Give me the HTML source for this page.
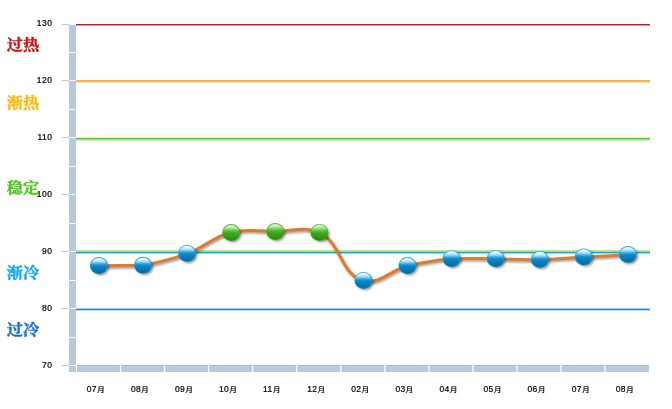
<!DOCTYPE html>
<html lang="zh-CN"><head><meta charset="utf-8"><title>chart</title>
<style>
html,body{margin:0;padding:0;background:#fff;}
body{width:672px;height:409px;overflow:hidden;position:relative;font-family:"Liberation Sans","Noto Sans CJK SC",sans-serif;}
svg{position:absolute;left:0;top:0;display:block;}
.num{font-family:"Liberation Sans","Noto Sans CJK SC",sans-serif;font-size:8.5px;fill:#000;letter-spacing:0.45px;stroke:#000;stroke-width:0.22px;}
.cat{font-family:"Liberation Sans","Noto Sans CJK SC",sans-serif;font-size:8.5px;fill:#000;letter-spacing:0.3px;stroke:#000;stroke-width:0.22px;}
.zone{font-family:"Liberation Serif","Noto Serif CJK SC",serif;font-size:14.3px;font-weight:700;stroke-width:0.35px;}
</style></head><body>
<svg width="672" height="409" viewBox="0 0 672 409">
<defs>
<linearGradient id="gb" x1="0" y1="0" x2="0" y2="1">
<stop offset="0.03" stop-color="#f0faff"/><stop offset="0.15" stop-color="#d4effc"/><stop offset="0.24" stop-color="#a8ddf7"/><stop offset="0.32" stop-color="#72c3ee"/><stop offset="0.39" stop-color="#42a9e2"/><stop offset="0.47" stop-color="#1a92d2"/><stop offset="0.55" stop-color="#0a86c6"/><stop offset="0.72" stop-color="#077cb8"/><stop offset="0.95" stop-color="#0570a8"/>
</linearGradient>
<linearGradient id="rb" x1="0" y1="0" x2="0" y2="1">
<stop offset="0" stop-color="#24acf6"/><stop offset="0.55" stop-color="#169fea"/><stop offset="1" stop-color="#066ca4"/>
</linearGradient>
<linearGradient id="gg" x1="0" y1="0" x2="0" y2="1">
<stop offset="0.03" stop-color="#def6d4"/><stop offset="0.15" stop-color="#c2ecb0"/><stop offset="0.24" stop-color="#a2de88"/><stop offset="0.32" stop-color="#80ce5e"/><stop offset="0.39" stop-color="#60c040"/><stop offset="0.47" stop-color="#48b228"/><stop offset="0.55" stop-color="#3ea81e"/><stop offset="0.72" stop-color="#369e16"/><stop offset="0.95" stop-color="#2c900e"/>
</linearGradient>
<linearGradient id="rg" x1="0" y1="0" x2="0" y2="1">
<stop offset="0" stop-color="#50c02c"/><stop offset="0.6" stop-color="#3eae1e"/><stop offset="1" stop-color="#2c8c10"/>
</linearGradient>
<filter id="sh2" x="-5%" y="-20%" width="110%" height="140%"><feGaussianBlur stdDeviation="0.9"/></filter>
<filter id="sh" x="-50%" y="-50%" width="200%" height="200%"><feGaussianBlur stdDeviation="1.1"/></filter>
<g id="bb">
<ellipse cx="1.7" cy="1.8" rx="8.6" ry="8.2" fill="#000" opacity="0.42" filter="url(#sh)"/>
<ellipse cx="-0.1" cy="0.1" rx="8.95" ry="8.4" fill="url(#rb)"/>
<ellipse cx="-0.1" cy="0.15" rx="8.15" ry="7.6" fill="url(#gb)"/>
</g>
<g id="bg">
<ellipse cx="1.7" cy="1.8" rx="8.6" ry="8.2" fill="#000" opacity="0.42" filter="url(#sh)"/>
<ellipse cx="-0.1" cy="0.1" rx="8.95" ry="8.4" fill="url(#rg)"/>
<ellipse cx="-0.1" cy="0.15" rx="8.15" ry="7.6" fill="url(#gg)"/>
</g>
</defs>

<rect x="76.00" y="24.00" width="574.00" height="1.00" fill="#cc1414"/>
<rect x="76.00" y="25.00" width="574.00" height="1.00" fill="#cc1414" opacity="0.45"/>
<rect x="76.00" y="80.00" width="574.00" height="1.00" fill="#cc1414" opacity="0.38"/>
<rect x="76.00" y="81.00" width="574.00" height="1.00" fill="#ffc20e"/>
<rect x="76.00" y="82.00" width="574.00" height="1.00" fill="#ffc20e" opacity="0.40"/>
<rect x="76.00" y="137.00" width="574.00" height="1.00" fill="#ffc20e" opacity="0.35"/>
<rect x="76.00" y="138.00" width="574.00" height="1.00" fill="#4fc832"/>
<rect x="76.00" y="139.00" width="574.00" height="1.00" fill="#4fc832" opacity="0.58"/>
<rect x="76.00" y="140.00" width="574.00" height="1.00" fill="#4fc832" opacity="0.27"/>
<rect x="76.00" y="141.00" width="574.00" height="1.00" fill="#4fc832" opacity="0.06"/>
<rect x="76.00" y="250.00" width="574.00" height="1.00" fill="#b6eb94"/>
<rect x="76.00" y="251.00" width="574.00" height="1.00" fill="#9fe072"/>
<rect x="76.00" y="252.00" width="574.00" height="1.00" fill="#10a6f2"/>
<rect x="76.00" y="253.00" width="574.00" height="1.00" fill="#10a6f2" opacity="0.45"/>
<rect x="76.00" y="308.00" width="574.00" height="1.00" fill="#10a6f2" opacity="0.45"/>
<rect x="76.00" y="309.00" width="574.00" height="1.00" fill="#2f80d2"/>
<rect x="76.00" y="310.00" width="574.00" height="1.00" fill="#2f80d2" opacity="0.30"/>
<rect x="69.00" y="25.00" width="7.00" height="347.00" fill="#b8c9dc"/>
<rect x="77.00" y="365.00" width="572.00" height="7.00" fill="#b8c9dc"/>
<rect x="77.00" y="365.00" width="572.00" height="1.00" fill="#a3bedb"/>
<rect x="62.00" y="24.00" width="7.00" height="1.00" fill="#b4c6da"/>
<text class="num" x="52.4" y="26.1" text-anchor="end">130</text>
<rect x="69.00" y="52.00" width="7.00" height="1.00" fill="#fff"/>
<rect x="69.00" y="80.00" width="7.00" height="1.00" fill="#fff"/>
<rect x="62.00" y="80.00" width="7.00" height="1.00" fill="#b4c6da"/>
<text class="num" x="52.4" y="83.1" text-anchor="end">120</text>
<rect x="69.00" y="109.00" width="7.00" height="1.00" fill="#fff"/>
<rect x="69.00" y="137.00" width="7.00" height="1.00" fill="#fff"/>
<rect x="62.00" y="137.00" width="7.00" height="1.00" fill="#b4c6da"/>
<text class="num" x="52.4" y="140.1" text-anchor="end">110</text>
<rect x="69.00" y="166.00" width="7.00" height="1.00" fill="#fff"/>
<rect x="69.00" y="194.00" width="7.00" height="1.00" fill="#fff"/>
<rect x="62.00" y="194.00" width="7.00" height="1.00" fill="#b4c6da"/>
<text class="num" x="52.4" y="197.1" text-anchor="end">100</text>
<rect x="69.00" y="223.00" width="7.00" height="1.00" fill="#fff"/>
<rect x="69.00" y="251.00" width="7.00" height="1.00" fill="#fff"/>
<rect x="62.00" y="251.00" width="7.00" height="1.00" fill="#b4c6da"/>
<text class="num" x="52.4" y="254.1" text-anchor="end">90</text>
<rect x="69.00" y="280.00" width="7.00" height="1.00" fill="#fff"/>
<rect x="69.00" y="308.00" width="7.00" height="1.00" fill="#fff"/>
<rect x="62.00" y="308.00" width="7.00" height="1.00" fill="#b4c6da"/>
<text class="num" x="52.4" y="311.1" text-anchor="end">80</text>
<rect x="69.00" y="337.00" width="7.00" height="1.00" fill="#fff"/>
<rect x="69.00" y="365.00" width="7.00" height="1.00" fill="#fff"/>
<rect x="62.00" y="365.00" width="7.00" height="1.00" fill="#b4c6da"/>
<text class="num" x="52.4" y="368.1" text-anchor="end">70</text>
<rect x="76.00" y="365.00" width="1.00" height="8.00" fill="#fff"/>
<rect x="119.94" y="365.00" width="1.30" height="7.00" fill="#fff"/>
<rect x="163.98" y="365.00" width="1.30" height="7.00" fill="#fff"/>
<rect x="208.02" y="365.00" width="1.30" height="7.00" fill="#fff"/>
<rect x="252.06" y="365.00" width="1.30" height="7.00" fill="#fff"/>
<rect x="296.10" y="365.00" width="1.30" height="7.00" fill="#fff"/>
<rect x="340.14" y="365.00" width="1.30" height="7.00" fill="#fff"/>
<rect x="384.18" y="365.00" width="1.30" height="7.00" fill="#fff"/>
<rect x="428.22" y="365.00" width="1.30" height="7.00" fill="#fff"/>
<rect x="472.26" y="365.00" width="1.30" height="7.00" fill="#fff"/>
<rect x="516.30" y="365.00" width="1.30" height="7.00" fill="#fff"/>
<rect x="560.34" y="365.00" width="1.30" height="7.00" fill="#fff"/>
<rect x="604.38" y="365.00" width="1.30" height="7.00" fill="#fff"/>
<text class="cat" x="86.8" y="392.3">07<tspan dx="0.4" font-size="7.4px">月</tspan></text>
<text class="cat" x="130.9" y="392.3">08<tspan dx="0.4" font-size="7.4px">月</tspan></text>
<text class="cat" x="175.0" y="392.3">09<tspan dx="0.4" font-size="7.4px">月</tspan></text>
<text class="cat" x="219.0" y="392.3">10<tspan dx="0.4" font-size="7.4px">月</tspan></text>
<text class="cat" x="263.1" y="392.3">11<tspan dx="0.4" font-size="7.4px">月</tspan></text>
<text class="cat" x="307.2" y="392.3">12<tspan dx="0.4" font-size="7.4px">月</tspan></text>
<text class="cat" x="351.3" y="392.3">02<tspan dx="0.4" font-size="7.4px">月</tspan></text>
<text class="cat" x="395.4" y="392.3">03<tspan dx="0.4" font-size="7.4px">月</tspan></text>
<text class="cat" x="439.5" y="392.3">04<tspan dx="0.4" font-size="7.4px">月</tspan></text>
<text class="cat" x="483.5" y="392.3">05<tspan dx="0.4" font-size="7.4px">月</tspan></text>
<text class="cat" x="527.6" y="392.3">06<tspan dx="0.4" font-size="7.4px">月</tspan></text>
<text class="cat" x="571.7" y="392.3">07<tspan dx="0.4" font-size="7.4px">月</tspan></text>
<text class="cat" x="615.8" y="392.3">08<tspan dx="0.4" font-size="7.4px">月</tspan></text>
<text class="zone" x="6.8" y="50.0" fill="#cc1414" stroke="#cc1414" textLength="32.4" lengthAdjust="spacingAndGlyphs">过热</text>
<text class="zone" x="6.8" y="107.5" fill="#ffb70a" stroke="#ffb70a" textLength="32.4" lengthAdjust="spacingAndGlyphs">渐热</text>
<text class="zone" x="6.8" y="192.9" fill="#4fc61e" stroke="#4fc61e" textLength="32.4" lengthAdjust="spacingAndGlyphs">稳定</text>
<text class="zone" x="6.8" y="278.4" fill="#12a5f5" stroke="#12a5f5" textLength="32.4" lengthAdjust="spacingAndGlyphs">渐冷</text>
<text class="zone" x="6.8" y="335.4" fill="#1271cf" stroke="#1271cf" textLength="32.4" lengthAdjust="spacingAndGlyphs">过冷</text>
<path d="M98.95,265.80 C114.82,265.69 127.16,265.50 143.03,265.50 C159.14,262.28 171.73,259.45 187.12,253.70 C203.66,247.52 214.03,236.33 231.20,232.20 C246.63,228.49 259.41,231.35 275.28,231.40 C291.16,231.45 304.92,225.92 319.37,232.50 C340.76,242.25 340.68,274.84 363.45,280.70 C379.67,284.88 391.26,269.79 407.53,265.80 C423.13,261.97 435.60,260.15 451.61,258.90 C467.44,257.67 479.83,258.76 495.70,258.90 C511.57,259.04 523.91,260.02 539.78,259.70 C555.67,259.38 567.99,257.99 583.86,257.10 C599.73,256.21 612.08,255.60 627.95,254.75" fill="none" stroke="#000" stroke-width="3" opacity="0.38" transform="translate(1.2,1.6)" filter="url(#sh2)"/>
<path d="M98.95,265.80 C114.82,265.69 127.16,265.50 143.03,265.50 C159.14,262.28 171.73,259.45 187.12,253.70 C203.66,247.52 214.03,236.33 231.20,232.20 C246.63,228.49 259.41,231.35 275.28,231.40 C291.16,231.45 304.92,225.92 319.37,232.50 C340.76,242.25 340.68,274.84 363.45,280.70 C379.67,284.88 391.26,269.79 407.53,265.80 C423.13,261.97 435.60,260.15 451.61,258.90 C467.44,257.67 479.83,258.76 495.70,258.90 C511.57,259.04 523.91,260.02 539.78,259.70 C555.67,259.38 567.99,257.99 583.86,257.10 C599.73,256.21 612.08,255.60 627.95,254.75" fill="none" stroke="#e07a2c" stroke-width="3" stroke-linecap="round" stroke-linejoin="round"/>
<use href="#bb" x="98.95" y="265.40"/>
<use href="#bb" x="143.03" y="265.10"/>
<use href="#bb" x="187.12" y="253.30"/>
<use href="#bg" x="231.20" y="232.40"/>
<use href="#bg" x="275.28" y="231.40"/>
<use href="#bg" x="319.37" y="232.30"/>
<use href="#bb" x="363.45" y="280.30"/>
<use href="#bb" x="407.53" y="265.40"/>
<use href="#bb" x="451.61" y="258.50"/>
<use href="#bb" x="495.70" y="258.50"/>
<use href="#bb" x="539.78" y="259.30"/>
<use href="#bb" x="583.86" y="256.70"/>
<use href="#bb" x="627.95" y="254.35"/>
</svg></body></html>
